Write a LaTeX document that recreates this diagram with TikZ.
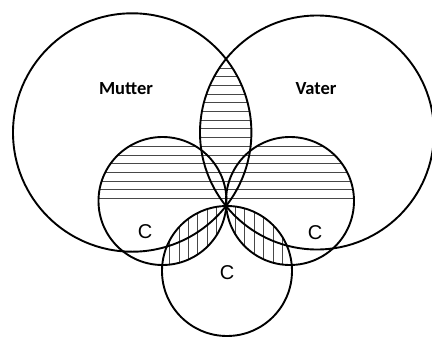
\documentclass[tikz,border=0pt]{standalone}
\usepackage{fontspec}
\setmainfont{Liberation Sans}
\newfontfamily\labfont{Carlito}
\begin{document}
\begin{tikzpicture}[x=1pt,y=-1pt,
  circ/.style={line width=1.9pt, draw=black},
  hatchline/.style={line width=0.9pt, draw=black!72},
  biglabel/.style={font=\labfont\bfseries\fontsize{18.5}{20}\selectfont, inner sep=0pt},
  clabel/.style={font=\fontsize{20}{22}\selectfont, inner sep=0pt}]
\useasboundingbox (0,0) rectangle (432,338);
\coordinate (M) at (132.2,132.5);
\coordinate (V) at (317,132.5);
\coordinate (L) at (162.5,201);
\coordinate (R) at (290,201);
\coordinate (B) at (227,271);
% horizontal hatching: lens of the two big circles
\begin{scope}
  \clip (M) circle (119.2pt);
  \clip (V) circle (117pt);
  \foreach \k in {0,...,17} \draw[hatchline] (0,{198.5-8.7*\k}) -- (432,{198.5-8.7*\k});
\end{scope}
% horizontal hatching: upper parts of left and right circles
\begin{scope}
  \clip (L) circle (64pt);
  \clip (0,0) rectangle (432,203);
  \foreach \k in {0,...,8} \draw[hatchline] (0,{198.5-8.7*\k}) -- (432,{198.5-8.7*\k});
\end{scope}
\begin{scope}
  \clip (R) circle (64pt);
  \clip (0,0) rectangle (432,203);
  \foreach \k in {0,...,8} \draw[hatchline] (0,{198.5-8.7*\k}) -- (432,{198.5-8.7*\k});
\end{scope}
% vertical hatching: lenses with the bottom circle
\begin{scope}
  \clip (L) circle (64pt);
  \clip (B) circle (65pt);
  \foreach \k in {1,...,8} \draw[hatchline] ({226-9.4*\k},190) -- ({226-9.4*\k},300);
\end{scope}
\begin{scope}
  \clip (R) circle (64pt);
  \clip (B) circle (65pt);
  \foreach \k in {1,...,8} \draw[hatchline] ({226+9.4*\k},190) -- ({226+9.4*\k},300);
\end{scope}
% circles
\draw[circ] (M) circle (119.2pt);
\draw[circ] (V) circle (117pt);
\draw[circ] (L) circle (64pt);
\draw[circ] (R) circle (64pt);
\draw[circ] (B) circle (65pt);
% labels
\node[biglabel] (mutter) at (126,89) {Mutter};
\node[biglabel] (vater) at (316,89) {Vater};
\node[clabel] (cl) at (145,232) {C};
\node[clabel] (cb) at (227,273) {C};
\node[clabel] (cr) at (315,232.5) {C};
\end{tikzpicture}
\end{document}
